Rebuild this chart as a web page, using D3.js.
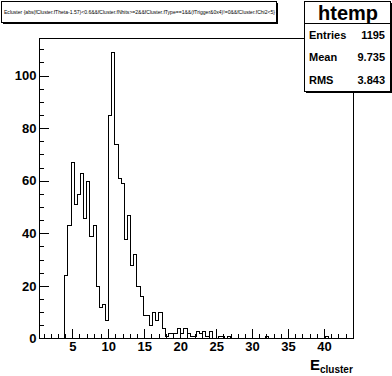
<!DOCTYPE html>
<html>
<head>
<meta charset="utf-8">
<script src="https://cdn.jsdelivr.net/npm/d3@7"></script>
<style>
  html, body { margin: 0; padding: 0; background: #fff; }
  svg { display: block; }
  text { font-family: "Liberation Sans", Arial, Helvetica, sans-serif; fill: #000; }
</style>
</head>
<body>
<svg id="c" width="392" height="376"></svg>
<script>
// ---------------- data ----------------
const histName = "htemp";
const histTitle = "Ecluster {abs(fCluster.fTheta-1.57)<0.6&&fCluster.fNhits>=2&&fCluster.fType==1&&(fTrigger&0x4)!=0&&fCluster.fChi2<5}";
const xMin = 0.4;
const xMax = 44.0;
const binCounts = [
  0, 0, 0, 0, 0, 0, 0, 0, 24, 43,
  67, 51, 55, 63, 46, 60, 39, 43, 20, 12,
  13, 7, 85, 109, 74, 61, 59, 38, 47, 28,
  32, 20, 16, 9, 9, 5, 10, 7, 10, 4,
  1, 2, 2, 2, 4, 2, 4, 2, 1, 1,
  3, 2, 3, 1, 3, 0, 0, 1, 1, 0,
  1, 0, 0, 0, 0, 0, 0, 0, 0, 0,
  0, 0, 1, 0, 0, 0, 0, 0, 0, 0,
  0, 0, 0, 0, 0, 0, 0, 0, 0, 0,
  0, 1, 0, 0, 0, 0, 0, 0, 0, 0
];
const xMajorTicks = [5, 10, 15, 20, 25, 30, 35, 40];
const xMinorTicks = [1, 2, 3, 4, 6, 7, 8, 9, 11, 12, 13, 14, 16, 17, 18, 19, 21, 22, 23, 24, 26, 27, 28, 29, 31, 32, 33, 34, 36, 37, 38, 39, 41, 42, 43];
const yMajorTicks = [0, 20, 40, 60, 80, 100];
const yMinorTicks = [5, 10, 15, 25, 30, 35, 45, 50, 55, 65, 70, 75, 85, 90, 95, 105, 110];
const statLabels = ["Entries", "Mean", "RMS"];
const statValues = ["1195", "9.735", "3.843"];
const xTitleMain = "E";
const xTitleSub = "cluster";

// ---------------- layout ----------------
const W = 392, H = 376;
const fx0 = 39.2, fx1 = 352.8, fy0 = 37.6, fy1 = 338.4;
const svg = d3.select("#c");

const nb = binCounts.length;
const bw = (xMax - xMin) / nb;
const yMax = 1.05 * d3.max(binCounts);

const x = d3.scaleLinear().domain([xMin, xMax]).range([fx0, fx1]);
const y = d3.scaleLinear().domain([0, yMax]).range([fy1, fy0]);

svg.append("rect").attr("x", 0).attr("y", 0).attr("width", W).attr("height", H).attr("fill", "#fff");

// histogram outline (step)
const pts = [];
pts.push([x(xMin), y(0)]);
binCounts.forEach((c, i) => {
  const lo = xMin + i * bw, hi = xMin + (i + 1) * bw;
  pts.push([x(lo), y(c)]);
  pts.push([x(hi), y(c)]);
});
pts.push([x(xMax), y(0)]);
const snap = v => Math.round(v) + 0.5;
svg.append("path")
  .attr("d", d3.line().x(d => snap(d[0])).y(d => snap(d[1]))(pts))
  .attr("fill", "none").attr("stroke", "#000").attr("stroke-width", 1)
  .attr("shape-rendering", "crispEdges");

// axes
const tickMajX = 0.03 * (fy1 - fy0), tickMajY = 0.03 * (fx1 - fx0);
const gx = svg.append("g").attr("transform", `translate(0,${fy1})`);
gx.call(d3.axisBottom(x).tickValues(xMajorTicks).tickSizeInner(-tickMajX).tickSizeOuter(0).tickPadding(3.6).tickFormat(d3.format("d")));
const gx2 = svg.append("g").attr("transform", `translate(0,${fy1})`);
gx2.call(d3.axisBottom(x).tickValues(xMinorTicks).tickSizeInner(-tickMajX / 2).tickSizeOuter(0).tickFormat(""));
const gy = svg.append("g").attr("transform", `translate(${fx0},0)`);
gy.call(d3.axisLeft(y).tickValues(yMajorTicks).tickSizeInner(-tickMajY).tickSizeOuter(0).tickPadding(2.8).tickFormat(d3.format("d")));
const gy2 = svg.append("g").attr("transform", `translate(${fx0},0)`);
gy2.call(d3.axisLeft(y).tickValues(yMinorTicks).tickSizeInner(-tickMajY / 2).tickSizeOuter(0).tickFormat(""));
[gx, gx2, gy, gy2].forEach(g => {
  g.select(".domain").remove();
  g.selectAll("line").attr("stroke", "#000").attr("shape-rendering", "crispEdges");
  g.selectAll("text").attr("font-size", 13).attr("font-family", "Liberation Sans, Arial, sans-serif").style("font-weight", "bold").attr("fill", "#000");
});

// frame
svg.append("rect").attr("x", Math.round(fx0) + 0.5).attr("y", Math.round(fy0) + 0.5)
  .attr("width", Math.round(fx1) - Math.round(fx0)).attr("height", Math.round(fy1) - Math.round(fy0))
  .attr("fill", "none").attr("stroke", "#000").attr("shape-rendering", "crispEdges");

// x title
const xt = svg.append("text").attr("x", fx1).attr("y", 370).attr("text-anchor", "end").style("font-weight", "bold");
xt.append("tspan").attr("font-size", 15).text(xTitleMain);
xt.append("tspan").attr("font-size", 10).attr("dy", 3).text(xTitleSub);

// title box
svg.append("rect").attr("x", 1.5).attr("y", 1.5).attr("width", 275).attr("height", 21)
  .attr("fill", "#fff").attr("stroke", "#000").attr("shape-rendering", "crispEdges");
svg.append("line").attr("x1", 277.5).attr("x2", 277.5).attr("y1", 3).attr("y2", 23.5).attr("stroke", "#000").attr("shape-rendering", "crispEdges");
svg.append("line").attr("x1", 3).attr("x2", 278).attr("y1", 23.5).attr("y2", 23.5).attr("stroke", "#000").attr("shape-rendering", "crispEdges");
svg.append("text").attr("x", 4).attr("y", 14).attr("font-size", 4.5).style("font-weight", "normal")
  .attr("textLength", 271).attr("lengthAdjust", "spacingAndGlyphs").text(histTitle);

// stats box
const sx0 = 304, sx1 = 390, sy0 = 1, sy1 = 91;
svg.append("rect").attr("x", sx0 + 0.5).attr("y", sy0 + 0.5).attr("width", sx1 - sx0).attr("height", sy1 - sy0)
  .attr("fill", "#fff").attr("stroke", "#000").attr("shape-rendering", "crispEdges");
svg.append("line").attr("x1", sx1 + 1.5).attr("x2", sx1 + 1.5).attr("y1", sy0 + 2).attr("y2", sy1 + 2).attr("stroke", "#000").attr("shape-rendering", "crispEdges");
svg.append("line").attr("x1", sx0 + 2).attr("x2", sx1 + 2).attr("y1", sy1 + 1.5).attr("y2", sy1 + 1.5).attr("stroke", "#000").attr("shape-rendering", "crispEdges");
svg.append("line").attr("x1", sx0).attr("x2", sx1).attr("y1", 23.5).attr("y2", 23.5).attr("stroke", "#000").attr("shape-rendering", "crispEdges");
svg.append("text").attr("x", (sx0 + sx1) / 2 + 1).attr("y", 19.5).attr("text-anchor", "middle").attr("font-size", 20).style("font-weight", "bold").text(histName);
const rowY = d3.scaleBand().domain(statLabels).range([23.5, sy1]);
statLabels.forEach((lab, i) => {
  const cy = rowY(lab) + rowY.bandwidth() / 2;
  svg.append("text").attr("x", sx0 + 5).attr("y", cy + 4).attr("font-size", 11).style("font-weight", "bold").text(lab);
  svg.append("text").attr("x", sx1 - 5).attr("y", cy + 4).attr("font-size", 11).style("font-weight", "bold").attr("text-anchor", "end").text(statValues[i]);
});
</script>
</body>
</html>
